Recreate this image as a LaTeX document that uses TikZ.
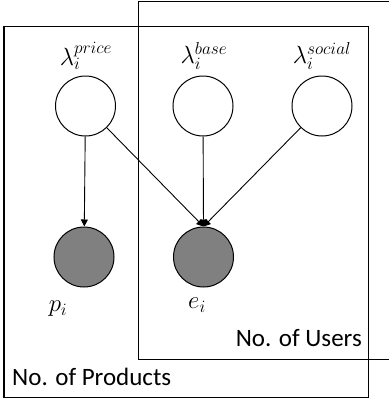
\documentclass[tikz,border=0pt]{standalone}
\usepackage{fontspec}
\setmainfont{Carlito}
\DeclareMathSizes{24}{24}{17}{13}
\usetikzlibrary{arrows.meta}
\begin{document}
\begin{tikzpicture}[x=1pt,y=-1pt,
  latent/.style={circle,draw,line width=1pt,minimum size=60pt,inner sep=0pt,fill=white},
  observed/.style={circle,draw,line width=1pt,minimum size=60pt,inner sep=0pt,fill=black!50},
  plate/.style={draw,line width=1pt},
  edge/.style={draw,line width=0.9pt,-{Triangle[length=7pt,width=7pt]}},
  lab/.style={font=\fontsize{24}{28}\selectfont,inner sep=0pt},
  platelab/.style={font=\fontsize{25}{30}\selectfont,inner sep=0pt}]
\useasboundingbox (0,0) rectangle (389,400);
\draw[plate] (138,1) -- (389,1);
\draw[plate] (138,1) -- (138,359) -- (389,359);
\draw[plate] (4,26) rectangle (368,397);
\node[latent] (lp) at (85.5,106) {};
\node[latent] (lb) at (203,106) {};
\node[latent] (ls) at (322,106) {};
\node[observed] (p) at (84,257) {};
\node[observed] (e) at (203.5,257) {};
\node[lab] (tp) at (86,56) {$\lambda_i^{price}$};
\node[lab] (tb) at (204,56) {$\lambda_i^{base}$};
\node[lab] (ts) at (322,56) {$\lambda_i^{social}$};
\node[lab] (tpi) at (58,309) {$p_i$};
\node[lab] (tei) at (197,305) {$e_i$};
\node[platelab,anchor=south east] (nu) at (362,347) {No. of Users};
\node[platelab,anchor=south west] (np) at (12,386) {No. of Products};
\draw[edge] (lp) -- (p);
\draw[edge] (lp) -- (e.north);
\draw[edge] (lb) -- (e.north);
\draw[edge] (ls) -- (e.north);
\end{tikzpicture}
\end{document}
